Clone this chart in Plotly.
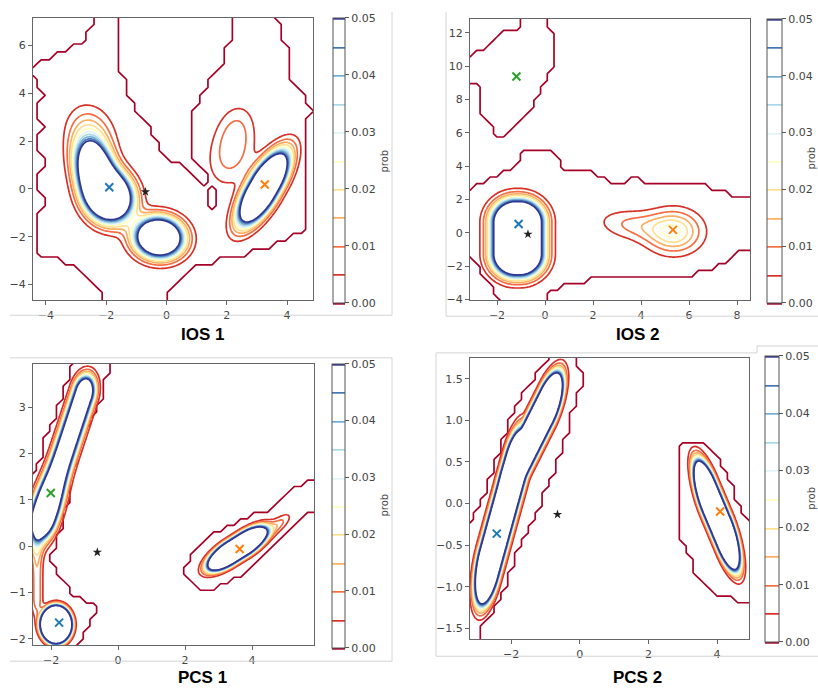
import numpy as np
import plotly.graph_objects as go

W, H = 818, 690

# ----------------------------- DATA -----------------------------
level_start, level_end, level_step = 0.0, 0.05, 0.005
cbar_ticks = [0.00, 0.01, 0.02, 0.03, 0.04, 0.05]
cbar_ticktext = ["0.00", "0.01", "0.02", "0.03", "0.04", "0.05"]
rdylbu = ['rgb(165,0,38)', 'rgb(215,48,39)', 'rgb(244,109,67)', 'rgb(253,174,97)',
          'rgb(254,224,144)', 'rgb(255,255,191)', 'rgb(224,243,248)', 'rgb(171,217,233)',
          'rgb(116,173,209)', 'rgb(69,117,180)', 'rgb(49,54,149)']
titles = ["IOS 1", "IOS 2", "PCS 1", "PCS 2"]

# cluster density components:
# [cx, cy, angle_deg, plateau_u, plateau_v, sigma_u, sigma_v, peak, group]  (group>0: merged smoothly)
ios1_x_range = [-4.43, 4.86]
ios1_y_range = [-4.66, 7.16]
ios1_x_ticks = [-4, -2, 0, 2, 4]
ios1_y_ticks = [-4, -2, 0, 2, 4, 6]
ios1_clusters = [
    [-2.37, 0.72, 100.0, 0.0, 0.0, 0.82, 0.375, 0.13, 0],
    [-1.90, -0.30, 100.0, 0.0, 0.0, 0.62, 0.45, 0.16, 0],
    [-2.50, 2.30, 100.0, 0.0, 0.0, 0.80, 0.50, 0.015, 0],
    [-0.25, -2.03, 20.0, 0.0, 0.0, 0.47, 0.50, 0.15, 0],
    [3.22, 0.05, 65.9, 0.17, 0.0, 0.83, 0.29, 0.20, 0],
    [2.15, 1.45, 80.0, 0.0, 0.0, 0.90, 0.50, 0.012, 0],
    [2.30, 2.60, 80.0, 0.0, 0.0, 0.70, 0.40, 0.007, 0],
]
ios1_support = [[
    (-4.42, -2.48), (-4.2, -2.0), (-4.35, -1.2), (-4.1, -0.6), (-4.3, 0.3), (-4.05, 1.0),
    (-4.3, 1.7), (-4.15, 2.6), (-4.35, 3.3), (-4.1, 4.0), (-4.4, 4.7), (-4.9, 4.95),
    (-3.6, 5.6), (-2.76, 6.22), (-2.3, 7.6), (-1.75, 7.6),
    (-1.65, 6.2), (-1.61, 5.09), (-1.3, 4.1), (-1.11, 3.56), (-0.5, 2.59), (-0.06, 1.14),
    (0.44, 1.05), (1.1, 0.43), (1.5, -0.8), (1.6, -1.6), (1.8, -0.8), (1.35, 0.45),
    (0.77, 1.62), (0.88, 3.29), (1.31, 4.39), (1.75, 5.09), (1.97, 5.78), (2.41, 7.6),
    (3.3, 7.6), (3.75, 6.88), (4.08, 5.36), (4.19, 4.39), (4.63, 3.7), (4.86, 3.42),
    (4.5, 2.8), (4.75, 2.2), (4.45, 1.5), (4.7, 0.8), (4.45, 0.2), (4.7, -0.5), (4.5, -1.2),
    (4.8, -1.64), (3.92, -2.2), (2.37, -2.89), (0.94, -3.17),
    (0.83, -3.5), (0.39, -3.93), (-0.05, -4.2), (-0.05, -5.1), (-1.99, -5.1), (-2.2, -4.3),
    (-2.76, -3.51), (-3.76, -2.89), (-4.9, -2.48)]]
ios1_cent_x = [-1.9, 3.26]
ios1_cent_y = [0.07, 0.19]
ios1_cent_c = ['#1f77b4', '#ff7f0e']
ios1_star = [-0.7, -0.12]

ios2_x_range = [-3.125, 8.54]
ios2_y_range = [-4.06, 12.83]
ios2_x_ticks = [-2, 0, 2, 4, 6, 8]
ios2_y_ticks = [-4, -2, 0, 2, 4, 6, 8, 10, 12]
ios2_clusters = [
    [-1.14, -0.33, 90.0, 0.95, 0.08, 0.75, 0.55, 0.20, 0],
    [5.38, 0.07, 0.0, 0.0, 0.0, 0.75, 0.85, 0.025, 0],
    [3.70, 0.45, -13.0, 0.0, 0.0, 1.00, 0.60, 0.011, 0],
]
ios2_support = [
    [(-3.6, 10.3), (-2.94, 10.72), (-2.39, 11.32), (-1.69, 12.12), (-1.1, 12.2), (-1.0, 13.3),
     (0.1, 13.3), (0.25, 12.1), (0.55, 11.9), (0.3, 11.3), (0.46, 9.93), (0.11, 9.33),
     (-0.17, 8.54), (-0.44, 8.14), (-0.58, 7.54), (-1.14, 6.55), (-1.69, 5.56), (-2.0, 5.6),
     (-2.3, 6.6), (-2.67, 7.35), (-2.67, 8.74), (-3.6, 9.0)],
    [(-3.6, 2.25), (-2.8, 2.85), (-1.83, 3.65), (-1.0, 4.25), (-0.9, 4.97), (0.11, 4.96),
     (0.67, 4.26), (0.8, 3.85), (1.78, 3.65), (2.61, 3.25), (3.03, 2.85), (3.72, 3.25),
     (4.56, 2.85), (5.67, 3.05), (6.5, 2.85), (7.33, 2.45), (8.17, 2.25), (9.0, 1.85),
     (9.0, -0.73), (7.9, -1.3), (7.06, -2.09), (5.95, -2.68), (4.56, -2.48), (3.45, -2.68),
     (2.33, -2.68), (0.95, -3.08), (0.2, -3.5), (-0.2, -4.5), (-1.8, -4.5), (-2.3, -3.0),
     (-3.6, -0.75)]]
ios2_cent_x = [-1.1, 5.33, -1.19]
ios2_cent_y = [0.52, 0.17, 9.37]
ios2_cent_c = ['#1f77b4', '#ff7f0e', '#2ca02c']
ios2_star = [-0.71, -0.09]

pcs1_x_range = [-2.54, 5.85]
pcs1_y_range = [-2.14, 3.94]
pcs1_x_ticks = [-2, 0, 2, 4]
pcs1_y_ticks = [-2, -1, 0, 1, 2, 3]
pcs1_clusters = [
    [-1.62, 1.98, 65.5, 1.45, 0.0, 0.24, 0.18, 0.13, 0],
    [-2.15, 0.80, 65.0, 0.0, 0.0, 0.45, 0.22, 0.10, 0],
    [-2.42, -0.50, 90.0, 0.6, 0.0, 0.30, 0.12, 0.014, 0],
    [-1.85, -1.69, 0.0, 0.0, 0.0, 0.173, 0.151, 2.0, 0],
    [3.55, -0.05, 24.4, 0.22, 0.0, 0.34, 0.115, 0.5, 0],
    [4.50, 0.30, 30.0, 0.3, 0.0, 0.30, 0.10, 0.012, 0],
]
pcs1_support = [
    [(-3.0, 1.45), (-2.43, 1.54), (-2.23, 2.26), (-1.79, 2.97), (-1.53, 3.61), (-1.18, 4.3),
     (-0.25, 4.3), (-0.29, 3.72), (-0.63, 2.97), (-1.13, 2.26), (-1.33, 1.69), (-1.53, 0.97),
     (-1.65, 0.4), (-2.03, -0.24), (-1.93, -0.48), (-1.53, -0.88), (-1.33, -1.09),
     (-0.74, -1.24), (-0.6, -1.39), (-1.03, -1.81), (-1.33, -2.5), (-3.0, -2.5)],
    [(1.96, -0.52), (2.36, -0.95), (2.6, -1.0), (3.55, -0.67), (4.35, -0.24), (5.05, 0.26),
     (5.65, 0.69), (6.3, 0.8), (6.3, 1.33), (5.65, 1.45), (5.15, 1.19), (4.75, 0.9),
     (4.15, 0.69), (3.35, 0.47), (2.75, 0.26), (2.25, -0.17)]]
pcs1_cent_x = [-1.76, 3.63, -2.01]
pcs1_cent_y = [-1.65, -0.06, 1.15]
pcs1_cent_c = ['#1f77b4', '#ff7f0e', '#2ca02c']
pcs1_star = [-0.62, -0.13]

pcs2_x_range = [-3.2, 4.93]
pcs2_y_range = [-1.63, 1.75]
pcs2_x_ticks = [-2, 0, 2, 4]
pcs2_y_ticks = [-1.5, -1.0, -0.5, 0.0, 0.5, 1.0, 1.5]
pcs2_clusters = [
    [-2.275, -0.16, 56.2, 0.674, 0.0, 0.25, 0.140, 0.54, 1],
    [-1.43, 0.785, 39.3, 0.61, 0.0, 0.25, 0.118, 0.54, 1],
    [3.99, -0.14, -44.3, 0.31, 0.0, 0.26, 0.115, 0.54, 0],
]
pcs2_support = [
    [(-3.6, -0.5), (-2.85, 0.04), (-2.47, 0.51), (-2.08, 0.95), (-1.59, 1.35), (-1.01, 1.7),
     (-0.9, 2.0), (0.0, 2.0), (-0.04, 1.74), (0.06, 1.43), (-0.14, 1.23), (-0.33, 0.91),
     (-0.82, 0.31), (-1.5, -0.32), (-1.88, -0.64), (-2.37, -1.19), (-2.95, -1.55),
     (-3.0, -2.0), (-3.6, -2.0)],
    [(2.87, 0.71), (3.45, 0.75), (4.04, 0.59), (4.43, 0.23), (4.72, -0.08), (5.3, -0.4),
     (5.3, -1.16), (4.63, -1.16), (4.04, -1.12), (3.46, -0.88), (2.97, -0.48), (2.87, -0.15)]]
pcs2_cent_x = [-2.42, 4.09]
pcs2_cent_y = [-0.36, -0.095]
pcs2_cent_c = ['#1f77b4', '#ff7f0e']
pcs2_star = [-0.65, -0.13]

# ----------------------------- LAYOUT (pixels) -----------------------------
panels = [
    dict(title=titles[0], xr=ios1_x_range, yr=ios1_y_range, xt=ios1_x_ticks, yt=ios1_y_ticks,
         cl=ios1_clusters, sup=ios1_support, cx=ios1_cent_x, cy=ios1_cent_y, cc=ios1_cent_c,
         star=ios1_star, box=(33, 313, 18, 303), cb=(333, 12, 18, 303), bin=(0.27, 0.33),
         fmt='d', prob=(385, 163), tpos=(202, 337)),
    dict(title=titles[1], xr=ios2_x_range, yr=ios2_y_range, xt=ios2_x_ticks, yt=ios2_y_ticks,
         cl=ios2_clusters, sup=ios2_support, cx=ios2_cent_x, cy=ios2_cent_y, cc=ios2_cent_c,
         star=ios2_star, box=(470, 750, 19, 303), cb=(767, 15, 19, 303), bin=(0.28, 0.40),
         fmt='d', prob=(812, 160), tpos=(637, 337)),
    dict(title=titles[2], xr=pcs1_x_range, yr=pcs1_y_range, xt=pcs1_x_ticks, yt=pcs1_y_ticks,
         cl=pcs1_clusters, sup=pcs1_support, cx=pcs1_cent_x, cy=pcs1_cent_y, cc=pcs1_cent_c,
         star=pcs1_star, box=(33, 314, 367, 651), cb=(332, 13, 367, 651), bin=(0.2, 0.14),
         fmt='d', prob=(385, 510), tpos=(202, 683)),
    dict(title=titles[3], xr=pcs2_x_range, yr=pcs2_y_range, xt=pcs2_x_ticks, yt=pcs2_y_ticks,
         cl=pcs2_clusters, sup=pcs2_support, cx=pcs2_cent_x, cy=pcs2_cent_y, cc=pcs2_cent_c,
         star=pcs2_star, box=(470, 749, 361, 645), cb=(765, 14, 359, 645), bin=(0.2, 0.08),
         fmt='.1f', prob=(812, 503), tpos=(637, 683)),
]


def component(X, Y, c):
    cx, cy, ang, lu, lv, su, sv, amp = c[:8]
    t = np.deg2rad(ang)
    dx, dy = X - cx, Y - cy
    u = dx * np.cos(t) + dy * np.sin(t)
    v = -dx * np.sin(t) + dy * np.cos(t)
    du = np.maximum(np.abs(u) - lu, 0) / su
    dv = np.maximum(np.abs(v) - lv, 0) / sv
    return amp * np.exp(-0.5 * (du ** 2 + dv ** 2))


def density(X, Y, comps, k=4.0):
    total = np.full(X.shape, 1e-9)
    groups = {}
    for c in comps:
        f = component(X, Y, c)
        g = c[8]
        if g == 0:
            total = total + f
        else:
            groups[g] = groups.get(g, 0.0) + f ** k
    for f in groups.values():
        total = total + f ** (1.0 / k)
    return total


def inside(px, py, poly):
    res = np.zeros(px.shape, dtype=bool)
    n = len(poly)
    for i in range(n):
        x1, y1 = poly[i]
        x2, y2 = poly[(i + 1) % n]
        cond = (y1 > py) != (y2 > py)
        with np.errstate(divide='ignore', invalid='ignore'):
            xint = (x2 - x1) * (py - y1) / (y2 - y1) + x1
        res ^= cond & (px < xint)
    return res


fig = go.Figure()
font_ticks = dict(family='DejaVu Sans', size=11, color='#444')
layout_axes = {}
annotations = []

for i, p in enumerate(panels):
    s = '' if i == 0 else str(i + 1)
    xr, yr = p['xr'], p['yr']
    # support of the sample (coarse histogram grid)
    bx, by = p['bin']
    xs_c = np.arange(xr[0] - 3 * bx, xr[1] + 3 * bx, bx)
    ys_c = np.arange(yr[0] - 3 * by, yr[1] + 3 * by, by)
    XC, YC = np.meshgrid(xs_c, ys_c)
    mask = np.zeros(XC.shape, dtype=bool)
    for poly in p['sup']:
        mask |= inside(XC, YC, poly)
    zc = np.where(mask, 1.0, -1.0)
    fig.add_trace(go.Contour(
        x=xs_c, y=ys_c, z=zc, xaxis='x' + s, yaxis='y' + s,
        contours=dict(start=0, end=0.5, size=1, coloring='none'),
        line=dict(color=rdylbu[0], width=1.7, smoothing=0),
        showscale=False, hoverinfo='skip', showlegend=False))
    # cluster density (fine grid)
    xspan, yspan = xr[1] - xr[0], yr[1] - yr[0]
    xs_f = np.linspace(xr[0] - 0.05 * xspan, xr[1] + 0.05 * xspan, 240)
    ys_f = np.linspace(yr[0] - 0.05 * yspan, yr[1] + 0.05 * yspan, 240)
    XF, YF = np.meshgrid(xs_f, ys_f)
    zf = density(XF, YF, p['cl'])
    cbx, cbw, cby0, cby1 = p['cb']
    fig.add_trace(go.Contour(
        x=xs_f, y=ys_f, z=zf, xaxis='x' + s, yaxis='y' + s,
        contours=dict(start=level_start, end=level_end + 1e-4, size=level_step, coloring='lines'),
        colorscale=[[k / 10, col] for k, col in enumerate(rdylbu)],
        zmin=level_start - 1e-5, zmax=level_end + 1e-5,
        line=dict(width=1.7, smoothing=0.8),
        hoverinfo='skip', showlegend=False,
        colorbar=dict(
            x=cbx / W, xanchor='left', xpad=0,
            y=1 - cby0 / H, yanchor='top', ypad=0,
            len=cby1 - cby0, lenmode='pixels',
            thickness=cbw, thicknessmode='pixels',
            outlinecolor='#555', outlinewidth=1, borderwidth=0,
            tickvals=cbar_ticks, ticktext=cbar_ticktext,
            ticks='outside', ticklen=4, tickcolor='#555', tickwidth=1,
            tickfont=font_ticks)))
    # centroids and star
    fig.add_trace(go.Scatter(
        x=p['cx'], y=p['cy'], mode='markers', xaxis='x' + s, yaxis='y' + s,
        marker=dict(symbol='x-thin', size=8, color=p['cc'], line=dict(width=2, color=p['cc'])),
        hoverinfo='skip', showlegend=False))
    fig.add_trace(go.Scatter(
        x=[p['star'][0]], y=[p['star'][1]], mode='markers', xaxis='x' + s, yaxis='y' + s,
        marker=dict(symbol='star', size=7, color='#222'),
        hoverinfo='skip', showlegend=False))

    x0, x1, y0, y1 = p['box']
    axis_common = dict(showgrid=False, zeroline=False, showline=True, mirror=True,
                       linecolor='#666', linewidth=1, ticks='outside', ticklen=4,
                       tickcolor='#666', tickwidth=1, tickfont=font_ticks)
    layout_axes['xaxis' + s] = dict(domain=[x0 / W, x1 / W], range=xr, anchor='y' + s,
                                    tickvals=p['xt'], **axis_common)
    ytf = '.1f' if p['fmt'] == '.1f' else 'd'
    layout_axes['yaxis' + s] = dict(domain=[1 - y1 / H, 1 - y0 / H], range=yr, anchor='x' + s,
                                    tickvals=p['yt'], tickformat=ytf, **axis_common)
    annotations.append(dict(x=p['tpos'][0] / W, y=1 - p['tpos'][1] / H, xref='paper', yref='paper',
                            text='<b>' + p['title'] + '</b>', showarrow=False,
                            font=dict(family='Liberation Sans, Arial', size=17, color='black'),
                            xanchor='center', yanchor='middle'))
    annotations.append(dict(x=p['prob'][0] / W, y=1 - p['prob'][1] / H, xref='paper', yref='paper',
                            text='prob', showarrow=False, textangle=-90,
                            font=dict(family='DejaVu Sans', size=10, color='#444'),
                            xanchor='center', yanchor='middle'))

# screenshot frame edges (decoration)
frame_lines = [
    (10, 318, 392, 318), (392, 12, 392, 318),
    (446, 12, 446, 319), (446, 319, 818, 319),
    (10, 361, 392, 361), (392, 361, 392, 667), (10, 667, 392, 667),
    (436, 356, 757, 356), (757, 356, 757, 349), (757, 349, 818, 349),
    (436, 356, 436, 662), (436, 662, 818, 662),
]
shapes = [dict(type='line', xref='paper', yref='paper', x0=a / W, y0=1 - b / H, x1=c / W, y1=1 - d / H,
               line=dict(color='#d4d4d4', width=1)) for a, b, c, d in frame_lines]

fig.update_layout(
    width=W, height=H, margin=dict(l=0, r=0, t=0, b=0),
    paper_bgcolor='white', plot_bgcolor='white',
    showlegend=False, annotations=annotations, shapes=shapes,
    **layout_axes)

fig.write_html("out.html")
